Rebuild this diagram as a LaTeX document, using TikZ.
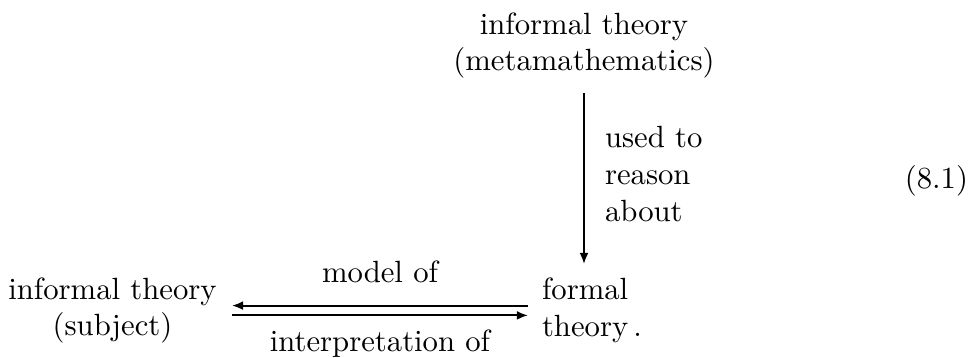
\documentclass[tikz,border=0pt]{standalone}
\usetikzlibrary{arrows.meta}
\begin{document}
\begin{tikzpicture}[x=0.3257pt,y=-0.3257pt,
  lbl/.style={inner sep=0pt, outer sep=0pt},
  arr/.style={line width=0.6pt, -{Latex[length=3.6pt,width=2.9pt]}}]
\useasboundingbox (0,0) rectangle (969,358);
\node[lbl, align=center] (meta) at (584,45.6) {informal theory\\(metamathematics)};
\node[lbl, align=center] (subj) at (112.5,310.5) {informal theory\\(subject)};
\node[lbl, align=left, anchor=west] (formal) at (542,310.5) {formal\\theory\,.};
\node[lbl, align=left, anchor=west] (used) at (605,173.8) {used to\\reason\\about};
\node[lbl, anchor=base] (model) at (380,283) {model of};
\node[lbl, anchor=base] (interp) at (380,352) {interpretation of};
\node[lbl, anchor=base east] (eqno) at (968,189) {(8.1)};
\draw[arr, shorten <=4.7pt, shorten >=4.6pt] (meta.south) -- (meta.south |- formal.north);
\draw[arr, shorten <=4.6pt, shorten >=5pt] ([yshift=1.6pt]formal.west) -- ([yshift=1.6pt]formal.west -| subj.east);
\draw[arr, shorten <=5pt, shorten >=4.6pt] ([yshift=-1.6pt]formal.west -| subj.east) -- ([yshift=-1.6pt]formal.west);
\end{tikzpicture}
\end{document}
